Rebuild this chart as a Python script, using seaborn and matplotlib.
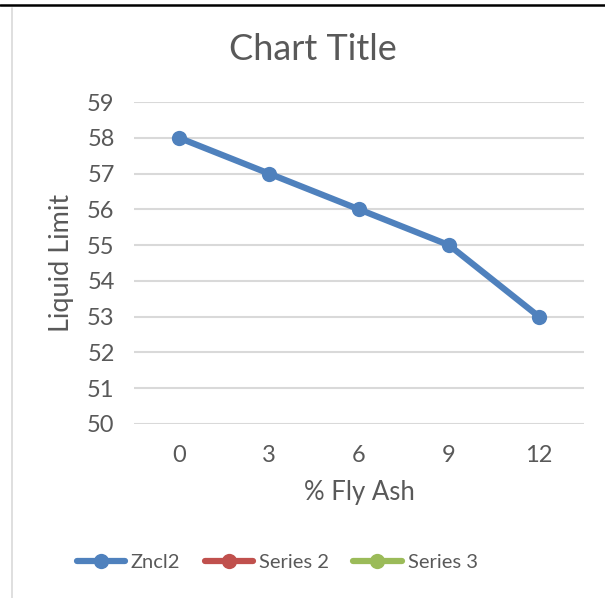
import matplotlib
matplotlib.use("Agg")
import matplotlib.pyplot as plt
from matplotlib.lines import Line2D
import seaborn as sns
import pandas as pd

categories = ["0", "3", "6", "9", "12"]
zncl2 = [58, 57, 56, 55, 53]
series_names = ["Zncl2", "Series 2", "Series 3"]
series_colors = ["#4F81BD", "#C0504D", "#9BBB59"]
y_ticks = [50, 51, 52, 53, 54, 55, 56, 57, 58, 59]

sns.set_theme(style="white")
plt.rcParams['font.family'] = ['Lato', 'DejaVu Sans']
txt = "#595959"

df = pd.DataFrame({"x": categories, "y": zncl2})

fig = plt.figure(figsize=(6.05, 5.98), dpi=100)
ax = fig.add_axes([0.2215, 0.291, 0.7438, 0.5384])

sns.lineplot(data=df, x="x", y="y", ax=ax, color=series_colors[0], linewidth=4.5,
             marker="o", markersize=11, markeredgewidth=0, sort=False)

ax.set_xlim(-0.5, 4.5)
ax.set_ylim(50, 59)
ax.set_yticks(y_ticks)
ax.yaxis.grid(True, color="#D9D9D9", linewidth=1.5)
ax.xaxis.grid(False)
for s in ax.spines.values():
    s.set_visible(False)
ax.tick_params(axis="both", length=0, labelsize=17, colors=txt)
ax.tick_params(axis="x", pad=15)
ax.tick_params(axis="y", pad=14)
ax.set_xlabel("% Fly Ash", fontsize=18.5, color=txt, labelpad=10)
ax.set_ylabel("Liquid Limit", fontsize=19.5, color=txt, labelpad=9)
fig.text(0.517, 0.918, "Chart Title", fontsize=26, color=txt, ha="center", va="center")

handles = [Line2D([0], [0], color=c, linewidth=4.5, marker="o", markersize=11, markeredgewidth=0)
           for c in series_colors]
fig.legend(handles, series_names, loc="center", bbox_to_anchor=(0.458, 0.06), ncol=3,
           frameon=False, fontsize=14.5, labelcolor=txt, handlelength=2.4,
           handletextpad=0.3, columnspacing=1.2)

fig.add_artist(Line2D([0, 1], [1 - 5/598, 1 - 5/598], color="black", linewidth=1.8,
                      transform=fig.transFigure))
fig.add_artist(Line2D([12/605, 12/605], [1 - 8/598, 0], color="#D9D9D9", linewidth=1.2,
                      transform=fig.transFigure))

fig.savefig("out.png", dpi=100)
